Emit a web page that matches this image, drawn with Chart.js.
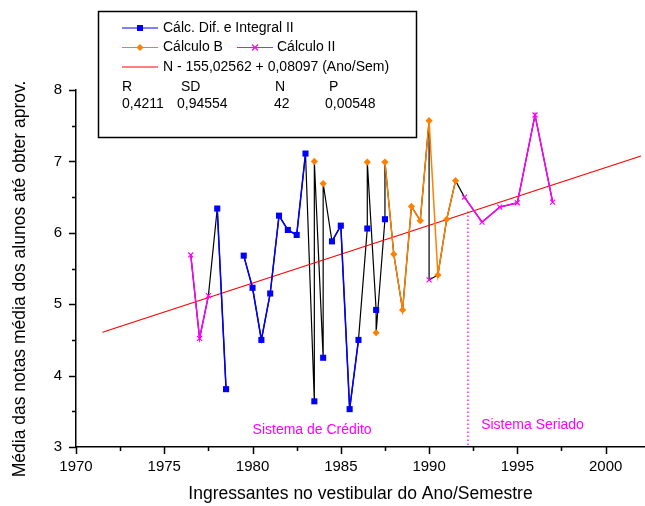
<!DOCTYPE html>
<html lang="pt">
<head>
<meta charset="UTF-8">
<title>Média das notas por ano de ingresso</title>
<style>
  html, body { margin: 0; padding: 0; background: #fff; }
  #wrap { width: 645px; height: 506px; }
</style>
</head>
<body>
<div id="wrap"><canvas id="grafico" width="645" height="506"></canvas></div>
<script src="https://cdn.jsdelivr.net/npm/chart.js"></script>
<script>
// Cálc. Dif. e Integral II (ano/semestre de ingresso e média)
const anosDif = [1978, 1978.5, 1979.5, 1980, 1980.5, 1981, 1981.5, 1982, 1982.5, 1983, 1983.5, 1984, 1984.5, 1985, 1985.5, 1986, 1986.5, 1987, 1987.5];
const notasDif = [6.34, 3.81, 5.68, 5.23, 4.50, 5.15, 6.24, 6.04, 5.97, 7.11, 3.64, 4.25, 5.88, 6.10, 3.53, 4.50, 6.06, 4.92, 6.19];
// Cálculo B
const anosCalcB = [1983.5, 1984, 1986.5, 1987, 1987.5, 1988, 1988.5, 1989, 1989.5, 1990, 1990.5, 1991, 1991.5];
const notasCalcB = [7.00, 6.69, 6.99, 4.60, 6.99, 5.70, 4.92, 6.37, 6.17, 7.57, 5.41, 6.19, 6.73];
// Cálculo II
const anosCalcII = [1976.5, 1977, 1977.5, 1990, 1992, 1993, 1994, 1995, 1996, 1997];
const notasCalcII = [5.69, 4.52, 5.12, 5.34, 6.50, 6.15, 6.36, 6.42, 7.65, 6.43];

// a linha colorida só liga semestres em que a disciplina aparece sozinha;
// nos semestres compartilhados fica só a linha preta
const quebrasDif = [1979, 1983.25, 1983.75, 1984.25, 1986.25, 1986.75, 1987.25];
const quebrasCalcB = [1983.75, 1985, 1986.75, 1987.25];
const quebrasCalcII = [1980, 1991];
const semestresSemDados = [1979];

// marcas principais dos eixos (as secundárias ficam no meio)
const anosEixo = [1970, 1975, 1980, 1985, 1990, 1995, 2000];
const notasEixo = [3, 4, 5, 6, 7, 8];

// reta de regressão
const coefA = -155.02562;
const coefB = 0.08097;
const anosReta = [1971.5, 2002];

// mudança de sistema
const anoMudanca = 1992.2;
const notasMudanca = [6.3, 3];

// tabela da legenda
const estatNomes = ['R', 'SD', 'N', 'P'];
const estatValores = ['0,4211', '0,94554', '42', '0,00548'];

const TITULO_Y = 'Média das notas média dos alunos até obter aprov.';
const FONTE = '"Liberation Sans", Arial, sans-serif';
const AZUL = '#0000ff', LARANJA = '#ff8000', MAGENTA = '#ff00ff', VERMELHO = '#ff0000';
const X_MAX = 2002.23;

function serie(anos, notas, quebras) {
  const pts = anos.map((a, i) => ({ x: a, y: notas[i] }));
  quebras.forEach(a => pts.push({ x: a, y: null }));
  return pts.sort((p, q) => p.x - q.x);
}

// todos os pontos em ordem cronológica (linha preta)
const todos = [];
anosDif.forEach((a, i) => todos.push({ x: a, y: notasDif[i], o: 0 }));
anosCalcB.forEach((a, i) => todos.push({ x: a, y: notasCalcB[i], o: 1 }));
anosCalcII.forEach((a, i) => todos.push({ x: a, y: notasCalcII[i], o: 2 }));
semestresSemDados.forEach(a => todos.push({ x: a, y: null, o: 3 }));
todos.sort((p, q) => p.x - q.x || p.o - q.o);

function marcasDe(principais, passo, max) {
  const t = [];
  principais.forEach(v => {
    t.push({ value: v, major: true });
    if (v + passo <= max) t.push({ value: v + passo, major: false });
  });
  return t;
}

function desenhaMarca(ctx, tipo, x, y, cor) {
  ctx.save();
  ctx.fillStyle = cor; ctx.strokeStyle = cor; ctx.lineWidth = 1.2;
  ctx.beginPath();
  if (tipo === 'rect') {
    ctx.rect(x - 3, y - 3, 6, 6); ctx.fill();
  } else if (tipo === 'rectRot') {
    ctx.moveTo(x, y - 3.5); ctx.lineTo(x + 3.5, y); ctx.lineTo(x, y + 3.5); ctx.lineTo(x - 3.5, y);
    ctx.closePath(); ctx.fill();
  } else {
    ctx.moveTo(x - 3, y - 3); ctx.lineTo(x + 3, y + 3);
    ctx.moveTo(x + 3, y - 3); ctx.lineTo(x - 3, y + 3); ctx.stroke();
  }
  ctx.restore();
}

const legendaPlugin = {
  id: 'legendaCaixa',
  afterDraw(chart) {
    const ctx = chart.ctx;
    const ds = chart.data.datasets;
    ctx.save();
    ctx.strokeStyle = '#000';
    ctx.lineWidth = 1.5;
    ctx.strokeRect(98.5, 11.5, 318, 126);
    ctx.font = '14px ' + FONTE;
    ctx.fillStyle = '#000';
    ctx.textBaseline = 'middle';
    ctx.textAlign = 'left';

    const item = (i, x0, y, xt) => {
      const d = ds[i];
      ctx.strokeStyle = d.borderColor; ctx.lineWidth = 1.2;
      ctx.beginPath(); ctx.moveTo(x0, y); ctx.lineTo(x0 + 36, y); ctx.stroke();
      if (d.pointRadius) desenhaMarca(ctx, d.pointStyle, x0 + 18, y, d.borderColor);
      ctx.fillStyle = '#000';
      ctx.fillText(d.label, xt, y);
    };
    item(0, 122, 28, 163);
    item(1, 122, 47.5, 163);
    item(2, 237, 47.5, 277);
    item(3, 122, 67, 163);

    const colunas = [122, 181, 275, 329];
    const colunasVal = [122, 177, 274, 325];
    estatNomes.forEach((t, i) => ctx.fillText(t, colunas[i], 87));
    estatValores.forEach((t, i) => ctx.fillText(t, colunasVal[i], 104.5));
    ctx.restore();
  }
};

const marcasPlugin = {
  id: 'marcasEixos',
  afterDraw(chart) {
    const { ctx, scales: { x, y } } = chart;
    ctx.save();
    ctx.strokeStyle = '#000';
    ctx.lineWidth = 1.5;
    ctx.beginPath();
    x.ticks.forEach(t => {
      const px = Math.round(x.getPixelForValue(t.value)) + 0.5;
      const len = t.major ? 7 : 4;
      ctx.moveTo(px, x.top); ctx.lineTo(px, x.top + len);
    });
    y.ticks.forEach(t => {
      const py = Math.round(y.getPixelForValue(t.value)) + 0.5;
      const len = t.major ? 7 : 4;
      ctx.moveTo(y.right, py); ctx.lineTo(y.right - len, py);
    });
    ctx.stroke();

    // título do eixo y, um pouco abaixo do centro da área
    ctx.save();
    ctx.translate(20, 279);
    ctx.rotate(-Math.PI / 2);
    ctx.font = '17.5px ' + FONTE;
    ctx.fillStyle = '#000';
    ctx.textAlign = 'center';
    ctx.textBaseline = 'middle';
    ctx.fillText(TITULO_Y, 0, 0);
    ctx.restore();

    // rótulos dos dois sistemas
    ctx.font = '14px ' + FONTE;
    ctx.fillStyle = MAGENTA;
    ctx.textBaseline = 'middle';
    ctx.textAlign = 'left';
    ctx.fillText('Sistema de Crédito', x.getPixelForValue(1980), y.getPixelForValue(3.24));
    ctx.fillText('Sistema Seriado', x.getPixelForValue(1992.95), y.getPixelForValue(3.3));
    ctx.restore();
  }
};

new Chart(document.getElementById('grafico'), {
  type: 'line',
  data: {
    datasets: [
      {
        label: 'Cálc. Dif. e Integral II',
        data: serie(anosDif, notasDif, quebrasDif),
        borderColor: AZUL, backgroundColor: AZUL, borderWidth: 1.5,
        pointStyle: 'rect', pointRadius: 4.3, pointBorderWidth: 0
      },
      {
        label: 'Cálculo B',
        data: serie(anosCalcB, notasCalcB, quebrasCalcB),
        borderColor: LARANJA, backgroundColor: LARANJA, borderWidth: 1.5,
        pointStyle: 'rectRot', pointRadius: 3.6, pointBorderWidth: 0
      },
      {
        label: 'Cálculo II',
        data: serie(anosCalcII, notasCalcII, quebrasCalcII),
        borderColor: MAGENTA, backgroundColor: MAGENTA, borderWidth: 1.5,
        pointStyle: 'crossRot', pointRadius: 3.5, pointBorderWidth: 1.2
      },
      {
        label: 'N - 155,02562 + 0,08097 (Ano/Sem)',
        data: anosReta.map(a => ({ x: a, y: coefA + coefB * a })),
        borderColor: VERMELHO, borderWidth: 1.2, pointRadius: 0
      },
      {
        label: 'mudança',
        data: notasMudanca.map(v => ({ x: anoMudanca, y: v })),
        borderColor: MAGENTA, borderWidth: 1.3, borderDash: [1.5, 2.5], pointRadius: 0
      },
      {
        label: 'todos',
        data: todos.map(p => ({ x: p.x, y: p.y })),
        borderColor: '#000', borderWidth: 1.2, pointRadius: 0
      }
    ]
  },
  options: {
    responsive: false,
    animation: false,
    devicePixelRatio: 1,
    spanGaps: false,
    layout: { autoPadding: false, padding: { top: 90, right: 0, left: 0, bottom: 0 } },
    plugins: { legend: { display: false }, tooltip: { enabled: false } },
    scales: {
      x: {
        type: 'linear',
        min: 1970,
        max: X_MAX,
        afterBuildTicks: s => { s.ticks = marcasDe(anosEixo, 2.5, X_MAX); },
        afterFit: s => { s.height = 59; s.paddingLeft = 0; s.paddingRight = 0; },
        grid: { display: false, drawTicks: false },
        border: { display: true, color: '#000', width: 1.5 },
        ticks: {
          padding: 11,
          color: '#000',
          font: { family: FONTE, size: 15 },
          maxRotation: 0,
          autoSkip: false,
          callback: (v, i, ts) => (ts[i].major ? String(v) : '')
        },
        title: {
          display: true,
          text: 'Ingressantes no vestibular do Ano/Semestre',
          color: '#000',
          font: { family: FONTE, size: 17.5 },
          padding: { top: 0, bottom: 1 }
        }
      },
      y: {
        min: 3,
        max: 8,
        afterBuildTicks: s => { s.ticks = marcasDe(notasEixo, 0.5, 8); },
        afterFit: s => { s.width = 76; },
        grid: { display: false, drawTicks: false },
        border: { display: true, color: '#000', width: 1.5 },
        ticks: {
          padding: 14,
          color: '#000',
          font: { family: FONTE, size: 15 },
          autoSkip: false,
          callback: (v, i, ts) => (ts[i].major ? String(v) : '')
        },
        title: { display: false }
      }
    }
  },
  plugins: [legendaPlugin, marcasPlugin]
});
</script>
</body>
</html>
